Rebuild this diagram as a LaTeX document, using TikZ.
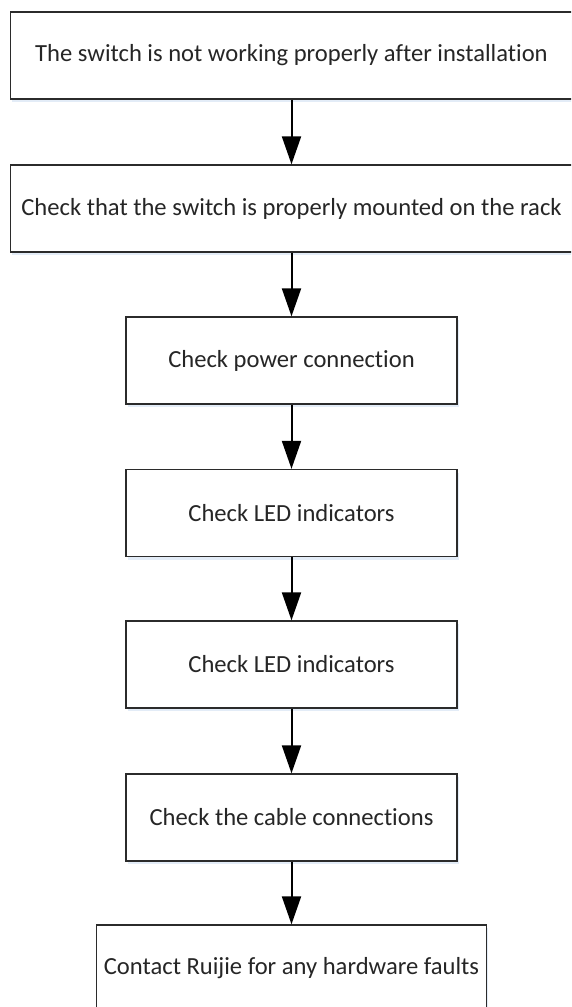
\documentclass[tikz,border=0pt]{standalone}
\usepackage{fontspec}
\setmainfont{Carlito}[Ligatures=NoCommon]
\usetikzlibrary{arrows.meta,shadows}
\definecolor{boxline}{HTML}{2B2B2B}
\definecolor{txt}{HTML}{262626}
\definecolor{shade}{HTML}{DCE8F5}
\tikzset{
  stepbox/.style={draw=boxline, line width=1.3pt, fill=white, inner sep=0pt,
    minimum height=87pt, text=txt, font=\fontsize{24.6}{28}\selectfont,
    drop shadow={shadow xshift=1.5pt, shadow yshift=-3pt, fill=shade, opacity=0.8}},
  flow/.style={draw=black, line width=2pt, -{Triangle[length=28pt,width=19pt]}}
}
\begin{document}
\begin{tikzpicture}[x=1pt,y=-1pt]
\clip (0,0) rectangle (571,1007);
\fill[white] (0,0) rectangle (571,1007);
\node[stepbox, minimum width=562pt] (n1) at (291.5,55.5) {The switch is not working properly after installation};
\node[stepbox, minimum width=562pt] (n2) at (291.5,208.5) {Check that the switch is properly mounted on the rack};
\node[stepbox, minimum width=331pt] (n3) at (291.5,360.5) {Check power connection};
\node[stepbox, minimum width=331pt] (n4) at (291.5,513) {Check LED indicators};
\node[stepbox, minimum width=331pt] (n5) at (291.5,664.5) {Check LED indicators};
\node[stepbox, minimum width=331pt] (n6) at (291.5,817.5) {Check the cable connections};
\node[stepbox, minimum width=390pt] (n7) at (291.5,968.5) {Contact Ruijie for any hardware faults};
\draw[flow] (n1.south) -- (n2.north);
\draw[flow] (n2.south) -- (n3.north);
\draw[flow] (n3.south) -- (n4.north);
\draw[flow] (n4.south) -- (n5.north);
\draw[flow] (n5.south) -- (n6.north);
\draw[flow] (n6.south) -- (n7.north);
\end{tikzpicture}
\end{document}
